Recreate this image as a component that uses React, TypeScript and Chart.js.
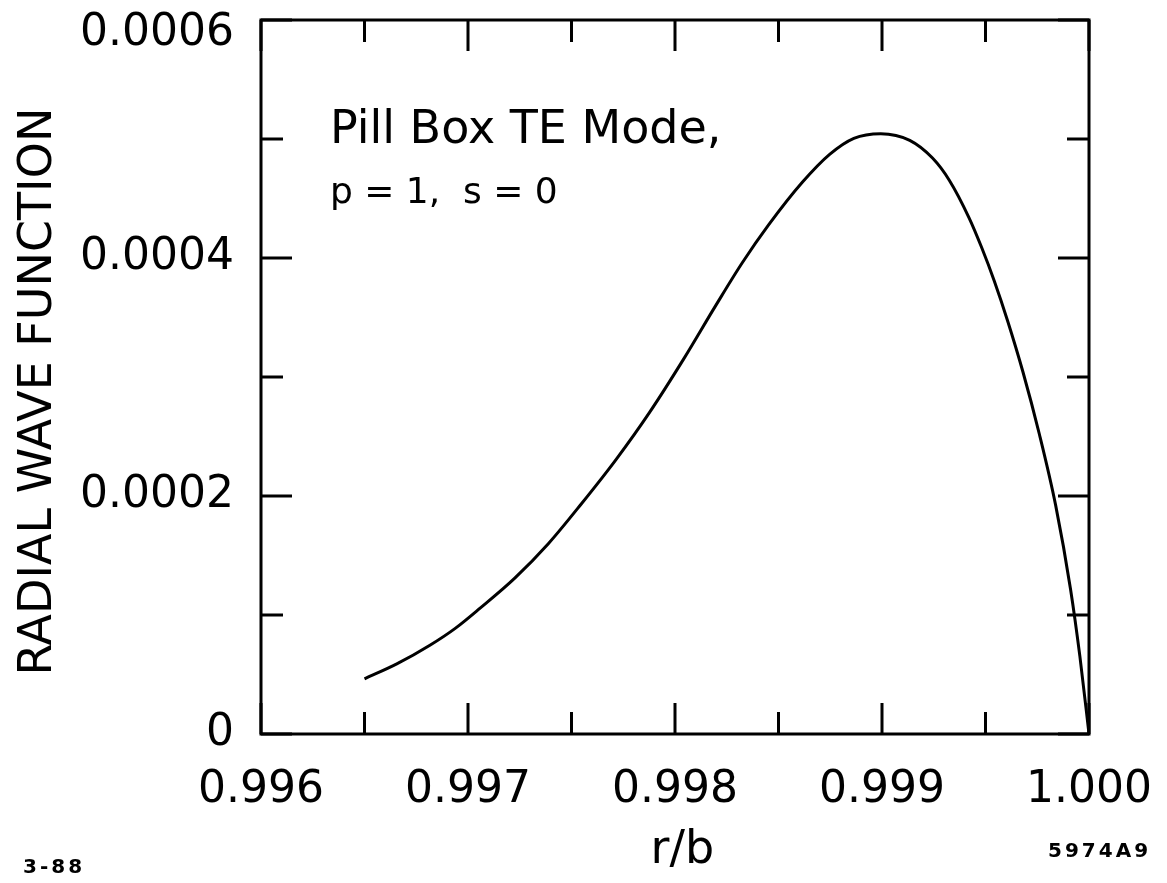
import React, { useEffect, useRef } from "react";
import { Chart, registerables } from "chart.js";

Chart.register(...registerables);

// ---- data ----
const R_OVER_B = [
  0.9965, 0.996656, 0.996816, 0.99694, 0.99706, 0.997226, 0.997388, 0.997549, 0.997715,
  0.997878, 0.99804, 0.998198, 0.998325, 0.998453, 0.998615, 0.998747, 0.998864, 0.998994,
  0.999134, 0.999244, 0.999325, 0.99942, 0.999481, 0.999542, 0.999607, 0.999681,
  0.99976, 0.999839, 0.999911, 0.999956, 1.0,
];
const WAVE_FUNCTION = [
  0.0000464, 0.0000589, 0.0000746, 0.000089, 0.000106, 0.000131, 0.0001599, 0.0001937, 0.0002306,
  0.0002705, 0.0003146, 0.0003604, 0.000396, 0.000428, 0.0004636, 0.0004871, 0.0005006, 0.0005045,
  0.0004989, 0.000484, 0.0004654, 0.000434, 0.000409, 0.0003809, 0.0003471, 0.0003042,
  0.0002521, 0.0001921, 0.0001215, 0.0000652, 0.0,
];

const X_TICK_VALUES = [0.996, 0.9965, 0.997, 0.9975, 0.998, 0.9985, 0.999, 0.9995, 1.0];
const X_TICK_LABELS = ["0.996", "", "0.997", "", "0.998", "", "0.999", "", "1.000"];
const Y_TICK_VALUES = [0, 0.0001, 0.0002, 0.0003, 0.0004, 0.0005, 0.0006];
const Y_TICK_LABELS = ["0", "", "0.0002", "", "0.0004", "", "0.0006"];

const X_TITLE = " r/b";
const Y_TITLE = "RADIAL WAVE FUNCTION  ";

const ANNOT_LINES = ["Pill Box TE Mode,", "p = 1,  s = 0"];
const ANNOT_X = 0.996333;
const ANNOT_Y = [0.0004966, 0.0004462];
const FOOT_LEFT = "3-88";
const FOOT_RIGHT = "5974A9";

const FONT = "'DejaVu Sans', sans-serif";

const framePlugin = {
  id: "frameTicks",
  beforeDraw(chart: any) {
    // the top y label sits a little below its tick in the original
    const ys = chart.scales.y;
    const items = ys.getLabelItems(chart.chartArea);
    const topLabel = Y_TICK_LABELS[Y_TICK_LABELS.length - 1];
    items.forEach((it: any) => {
      if (it.label === topLabel && it.options && it.options.translation && !it._shifted) {
        it.options.translation[1] += 14;
        it._shifted = true;
      }
    });
  },
  afterDraw(chart: any) {
    const { ctx, chartArea } = chart;
    const { left, right, top, bottom } = chartArea;
    const xs = chart.scales.x;
    const ys = chart.scales.y;
    ctx.save();
    ctx.strokeStyle = "#000";
    ctx.lineWidth = 3;
    ctx.lineCap = "butt";
    ctx.strokeRect(left, top, right - left, bottom - top);
    ctx.beginPath();
    X_TICK_VALUES.forEach((v, i) => {
      const px = xs.getPixelForValue(v);
      const len = X_TICK_LABELS[i] ? 31 : 22;
      ctx.moveTo(px, bottom);
      ctx.lineTo(px, bottom - len);
      ctx.moveTo(px, top);
      ctx.lineTo(px, top + len);
    });
    Y_TICK_VALUES.forEach((v, i) => {
      const py = ys.getPixelForValue(v);
      const len = Y_TICK_LABELS[i] ? 31 : 22;
      ctx.moveTo(left, py);
      ctx.lineTo(left + len, py);
      ctx.moveTo(right, py);
      ctx.lineTo(right - len, py);
    });
    ctx.stroke();

    // annotation
    ctx.fillStyle = "#000";
    ctx.textBaseline = "alphabetic";
    ctx.textAlign = "left";
    const ax = xs.getPixelForValue(ANNOT_X);
    ctx.font = `46px ${FONT}`;
    ctx.fillText(ANNOT_LINES[0], ax, ys.getPixelForValue(ANNOT_Y[0]));
    ctx.font = `36px ${FONT}`;
    ctx.fillText(ANNOT_LINES[1], ax, ys.getPixelForValue(ANNOT_Y[1]));

    // figure codes
    ctx.font = `bold 20px ${FONT}`;
    try {
      (ctx as any).letterSpacing = "3px";
    } catch (e) {}
    ctx.fillText(FOOT_LEFT, 15, 865);
    ctx.fillText(FOOT_RIGHT, 1040, 849);
    ctx.restore();
  },
};

const zeroPadding = (s: any) => {
  s.paddingTop = 0;
  s.paddingBottom = 0;
  s.paddingLeft = 0;
  s.paddingRight = 0;
};

export default function App() {
  const ref = useRef<HTMLCanvasElement | null>(null);
  useEffect(() => {
    if (!ref.current) return;
    const chart = new Chart(ref.current, {
      type: "line",
      data: {
        datasets: [
          {
            data: R_OVER_B.map((x, i) => ({ x, y: WAVE_FUNCTION[i] })),
            borderColor: "#000",
            borderWidth: 3,
            pointRadius: 0,
            fill: false,
            cubicInterpolationMode: "monotone",
          },
        ],
      },
      options: {
        animation: false,
        responsive: true,
        maintainAspectRatio: false,
        layout: { padding: { top: 12, right: 70, left: 0, bottom: 0 } },
        plugins: { legend: { display: false }, tooltip: { enabled: false } },
        scales: {
          x: {
            type: "linear",
            min: 0.996,
            max: 1.0,
            border: { display: false },
            grid: { display: false, drawTicks: false },
            afterBuildTicks: (s: any) => {
              s.ticks = X_TICK_VALUES.map((v) => ({ value: v }));
            },
            afterFit: (s: any) => {
              s.height = 141;
              zeroPadding(s);
            },
            ticks: {
              autoSkip: false,
              maxRotation: 0,
              minRotation: 0,
              padding: 35,
              color: "#000",
              font: { family: FONT, size: 44, lineHeight: 1 },
              callback: (_v: any, i: number) => X_TICK_LABELS[i],
            },
            title: {
              display: true,
              text: X_TITLE,
              color: "#000",
              font: { family: FONT, size: 46, lineHeight: 1 },
              padding: { top: 0, bottom: 1 },
            },
          },
          y: {
            type: "linear",
            min: 0,
            max: 0.0006,
            border: { display: false },
            grid: { display: false, drawTicks: false },
            afterBuildTicks: (s: any) => {
              s.ticks = Y_TICK_VALUES.map((v) => ({ value: v }));
            },
            afterFit: (s: any) => {
              s.width = 253;
              zeroPadding(s);
            },
            ticks: {
              autoSkip: false,
              padding: 27,
              color: "#000",
              font: { family: FONT, size: 44, lineHeight: 1 },
              callback: (_v: any, i: number) => Y_TICK_LABELS[i],
            },
            title: {
              display: true,
              text: Y_TITLE,
              color: "#000",
              font: { family: FONT, size: 46, lineHeight: 1 },
              padding: { top: 8, bottom: 0 },
            },
          },
        },
      },
      plugins: [framePlugin],
    });
    return () => chart.destroy();
  }, []);
  return (
    <div style={{ width: 1151, height: 867, position: "relative", background: "#fff" }}>
      <canvas ref={ref} />
    </div>
  );
}
